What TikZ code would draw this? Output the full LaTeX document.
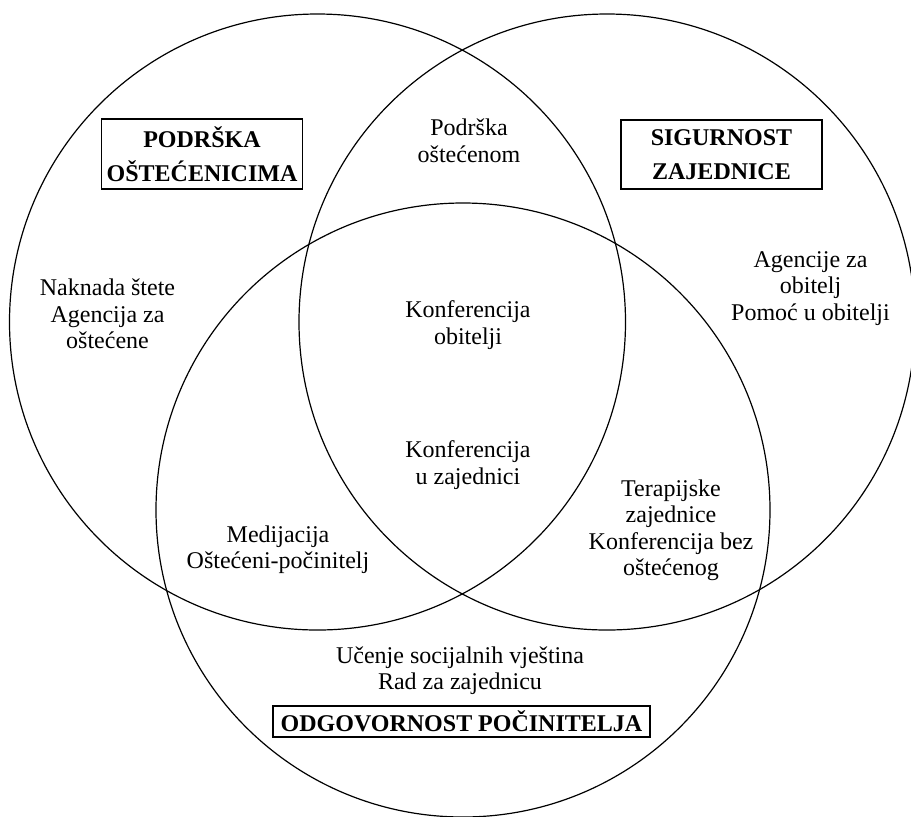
\documentclass[tikz,border=0pt]{standalone}
\usepackage{fontspec}
\setmainfont{Liberation Serif}

\begin{document}
\begin{tikzpicture}
[x=0.5pt,y=-0.5pt,
  circleDecorate/.style={shape=circle,draw,line width=0.6pt,inner sep=0pt,minimum size=#1},%
  textDecorate/.style={align=center,inner sep=0pt,font=\fontsize{12}{13.25}\selectfont},%
  boxDecorate/.style={draw,line width=0.6pt,align=center,inner sep=0pt,font=\fontsize{12}{17}\selectfont\bfseries}]
\useasboundingbox (0,0) rectangle (911,816);
%% the three circles
\node (victim) at (317.5,322) [circleDecorate=308pt] {};
\node (community) at (607,322) [circleDecorate=308pt] {};
\node (offender) at (463,510) [circleDecorate=307pt] {};
%% titles in boxes
\node (victimTitle) at (202,154) [boxDecorate,minimum width=100.5pt,minimum height=35pt] {PODRŠKA\\OŠTEĆENICIMA};
\node (communityTitle) at (721.5,154.5) [boxDecorate,minimum width=100.5pt,minimum height=34.5pt] {SIGURNOST\\ZAJEDNICE};
\node (offenderTitle) at (461.5,721.5) [boxDecorate,minimum width=188.5pt,minimum height=15.5pt] {ODGOVORNOST POČINITELJA};
%% texts of the regions
\node (victimOnly) at (107.5,314) [textDecorate] {Naknada štete\\Agencija za\\oštećene};
\node (communityOnly) at (810.5,288.5) [textDecorate] {Agencije za\\obitelj\\Pomoć u obitelji};
\node (offenderOnly) at (460,670.5) [textDecorate] {Učenje socijalnih vještina\\Rad za zajednicu};
\node (victimCommunity) at (469,141) [textDecorate] {Podrška\\oštećenom};
\node (allThree) at (468,325) [textDecorate] {Konferencija\\obitelji};
\node (allThreeLow) at (468,465) [textDecorate] {Konferencija\\u zajednici};
\node (victimOffender) at (278,549.5) [textDecorate] {Medijacija\\Oštećeni-počinitelj};
\node (communityOffender) at (671,530.5) [textDecorate] {Terapijske\\zajednice\\Konferencija bez\\oštećenog};
\end{tikzpicture}
\end{document}
